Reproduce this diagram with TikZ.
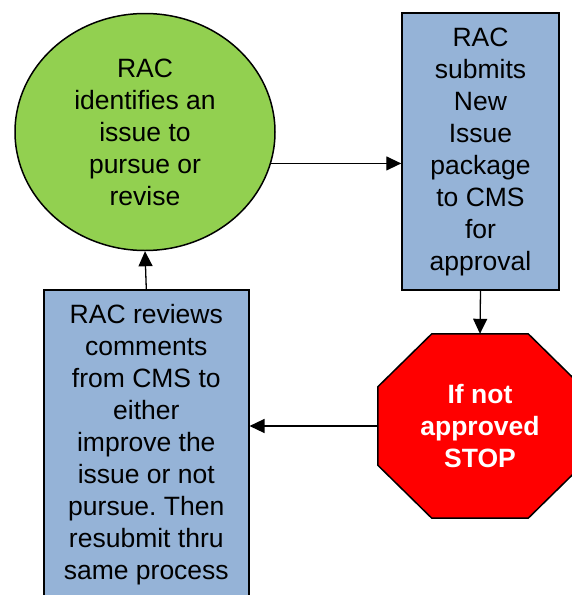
\documentclass[tikz,border=0pt]{standalone}
\usepackage{fontspec}
\setmainfont{Liberation Sans}
\usetikzlibrary{arrows.meta,shapes.geometric,backgrounds}
\definecolor{racgreen}{RGB}{146,208,80}
\definecolor{racblue}{RGB}{149,179,215}
\definecolor{stopred}{RGB}{255,0,0}

\begin{document}
\begin{tikzpicture}[x=1pt,y=-1pt]
\tikzstyle{every node}=[align=center, inner sep=0pt, font=\fontsize{26.5}{32}\selectfont]
\tikzstyle{greenball}=[draw, ellipse, line width=1.5pt, fill=racgreen]
\tikzstyle{bluebox}=[draw, rectangle, line width=1.5pt, fill=racblue]
\tikzstyle{stopsign}=[rectangle, text=white, font=\fontsize{26.5}{32}\selectfont\bfseries]
\tikzstyle{flow}=[line width=1.3pt, -{Triangle[length=15pt,width=14pt]}]
\useasboundingbox (0,0) rectangle (571,595);
\draw (145,132) node (issue) [greenball, minimum width=260pt, minimum height=237pt] {RAC\\identifies an\\issue to\\pursue or\\revise};
\draw (480.5,151.5) node (submit) [bluebox, minimum width=157pt, minimum height=277pt] {RAC\\submits\\New\\Issue\\package\\to CMS\\for\\approval};
\draw (480,426) node (stop) [stopsign, minimum width=204pt, minimum height=184pt] {If not\\approved\\STOP};
\draw (146.3,445) node (review) [bluebox, minimum width=205pt, minimum height=310pt] {RAC reviews\\comments\\from CMS to\\either\\improve the\\issue or not\\pursue.\ Then\\resubmit thru\\same process};
% octagon behind the stop text
\begin{scope}[on background layer]
\draw[line width=1.5pt, fill=stopred] ([xshift=54pt]stop.north west) -- ([xshift=-54pt]stop.north east)
  -- ([yshift=-53pt]stop.north east) -- ([yshift=53pt]stop.south east)
  -- ([xshift=-54pt]stop.south east) -- ([xshift=54pt]stop.south west)
  -- ([yshift=53pt]stop.south west) -- ([yshift=-53pt]stop.north west) -- cycle;
\end{scope}
\draw[flow] (issue.-14) -- (issue.-14 -| submit.west);
\draw[flow] (submit.south) -- (stop.north);
\draw[flow] (stop.west) -- (stop.west -| review.east);
\draw[flow] (review.north) -- (issue.south);
\end{tikzpicture}
\end{document}
